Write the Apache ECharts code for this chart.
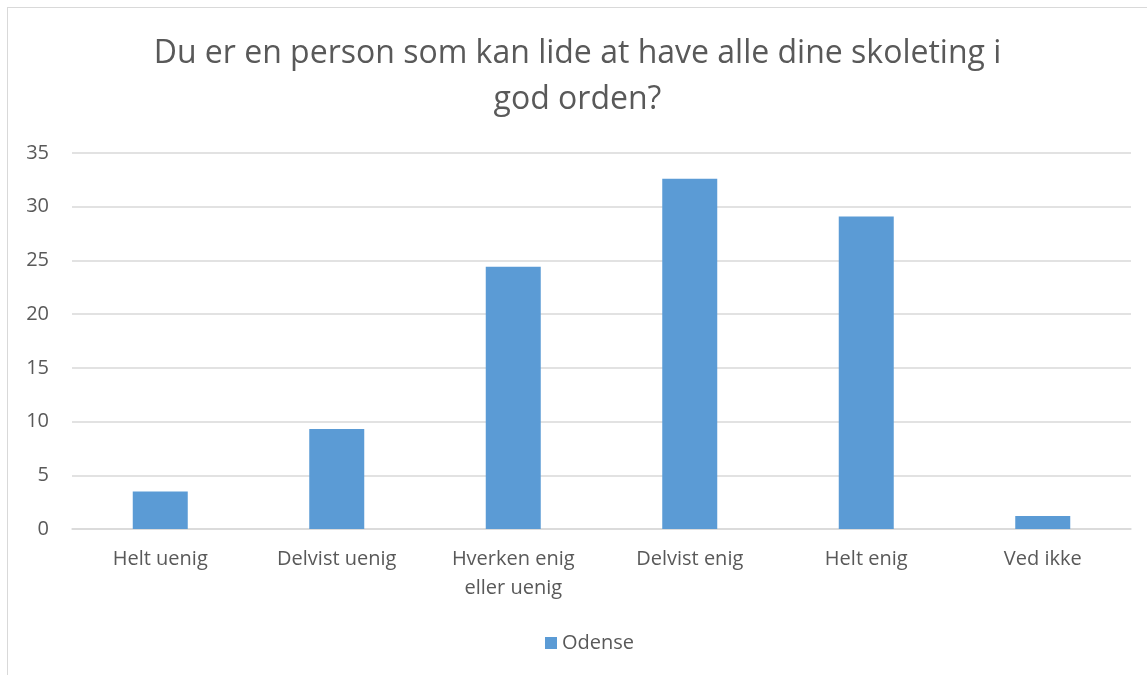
<!DOCTYPE html>
<html>
<head>
<meta charset="utf-8">
<script src="https://cdn.jsdelivr.net/npm/echarts@6/dist/echarts.min.js"></script>
<style>
  html, body { margin: 0; padding: 0; background: #fff; }
  .chart { position: absolute; left: 7px; top: 7px; width: 1140px; height: 668px;
           border-left: 1px solid #d9d9d9; border-top: 1px solid #d9d9d9; box-sizing: border-box; }
</style>
</head>
<body>
<div class="chart"></div>
<script>
// 数据
var titleText = 'Du er en person som kan lide at have alle dine skoleting i\ngod orden?';
var categories = ['Helt uenig', 'Delvist uenig', 'Hverken enig\neller uenig', 'Delvist enig', 'Helt enig', 'Ved ikke'];
var seriesName = 'Odense';
var values = [3.5, 9.3, 24.4, 32.6, 29.1, 1.2];
var yTicks = [0, 5, 10, 15, 20, 25, 30, 35];

(function () {
  var myChart = echarts.init(document.querySelector('.chart'));
  var font = '"Open Sans", "Noto Sans", sans-serif';
  var option = {
    color: ['#5B9BD5'],
    title: {
      text: titleText,
      left: 'center',
      top: 18,
      textStyle: {
        color: '#595959',
        fontSize: 32,
        fontWeight: 'normal',
        fontFamily: font,
        lineHeight: 46
      }
    },
    legend: {
      bottom: 17,
      left: 532,
      icon: 'rect',
      itemWidth: 12,
      itemHeight: 12,
      itemGap: 4,
      textStyle: { color: '#595959', fontSize: 20, fontFamily: font, padding: [0, 0, 0, 0] },
      data: [seriesName]
    },
    // 图表大小
    grid: {
      left: 64,
      right: 16,
      top: 145,
      bottom: 146
    },
    xAxis: {
      type: 'category',
      data: categories,
      axisTick: { show: false },
      axisLine: { lineStyle: { color: '#d9d9d9', width: 1.5 } },
      axisLabel: {
        color: '#595959',
        fontSize: 20,
        fontFamily: font,
        margin: 16,
        lineHeight: 29,
        interval: 0
      }
    },
    yAxis: {
      type: 'value',
      min: yTicks[0],
      max: yTicks[yTicks.length - 1],
      interval: 5,
      axisLine: { show: false },
      axisTick: { show: false },
      axisLabel: {
        color: '#595959',
        fontSize: 20,
        fontFamily: font,
        margin: 23
      },
      splitLine: { lineStyle: { color: '#d9d9d9', width: 1.5 } }
    },
    series: [
      {
        name: seriesName,
        type: 'bar',
        barWidth: 55,
        data: values
      }
    ]
  };
  myChart.setOption(option);
  window.addEventListener('resize', function () {
    myChart.resize();
  });
})();
</script>
</body>
</html>
